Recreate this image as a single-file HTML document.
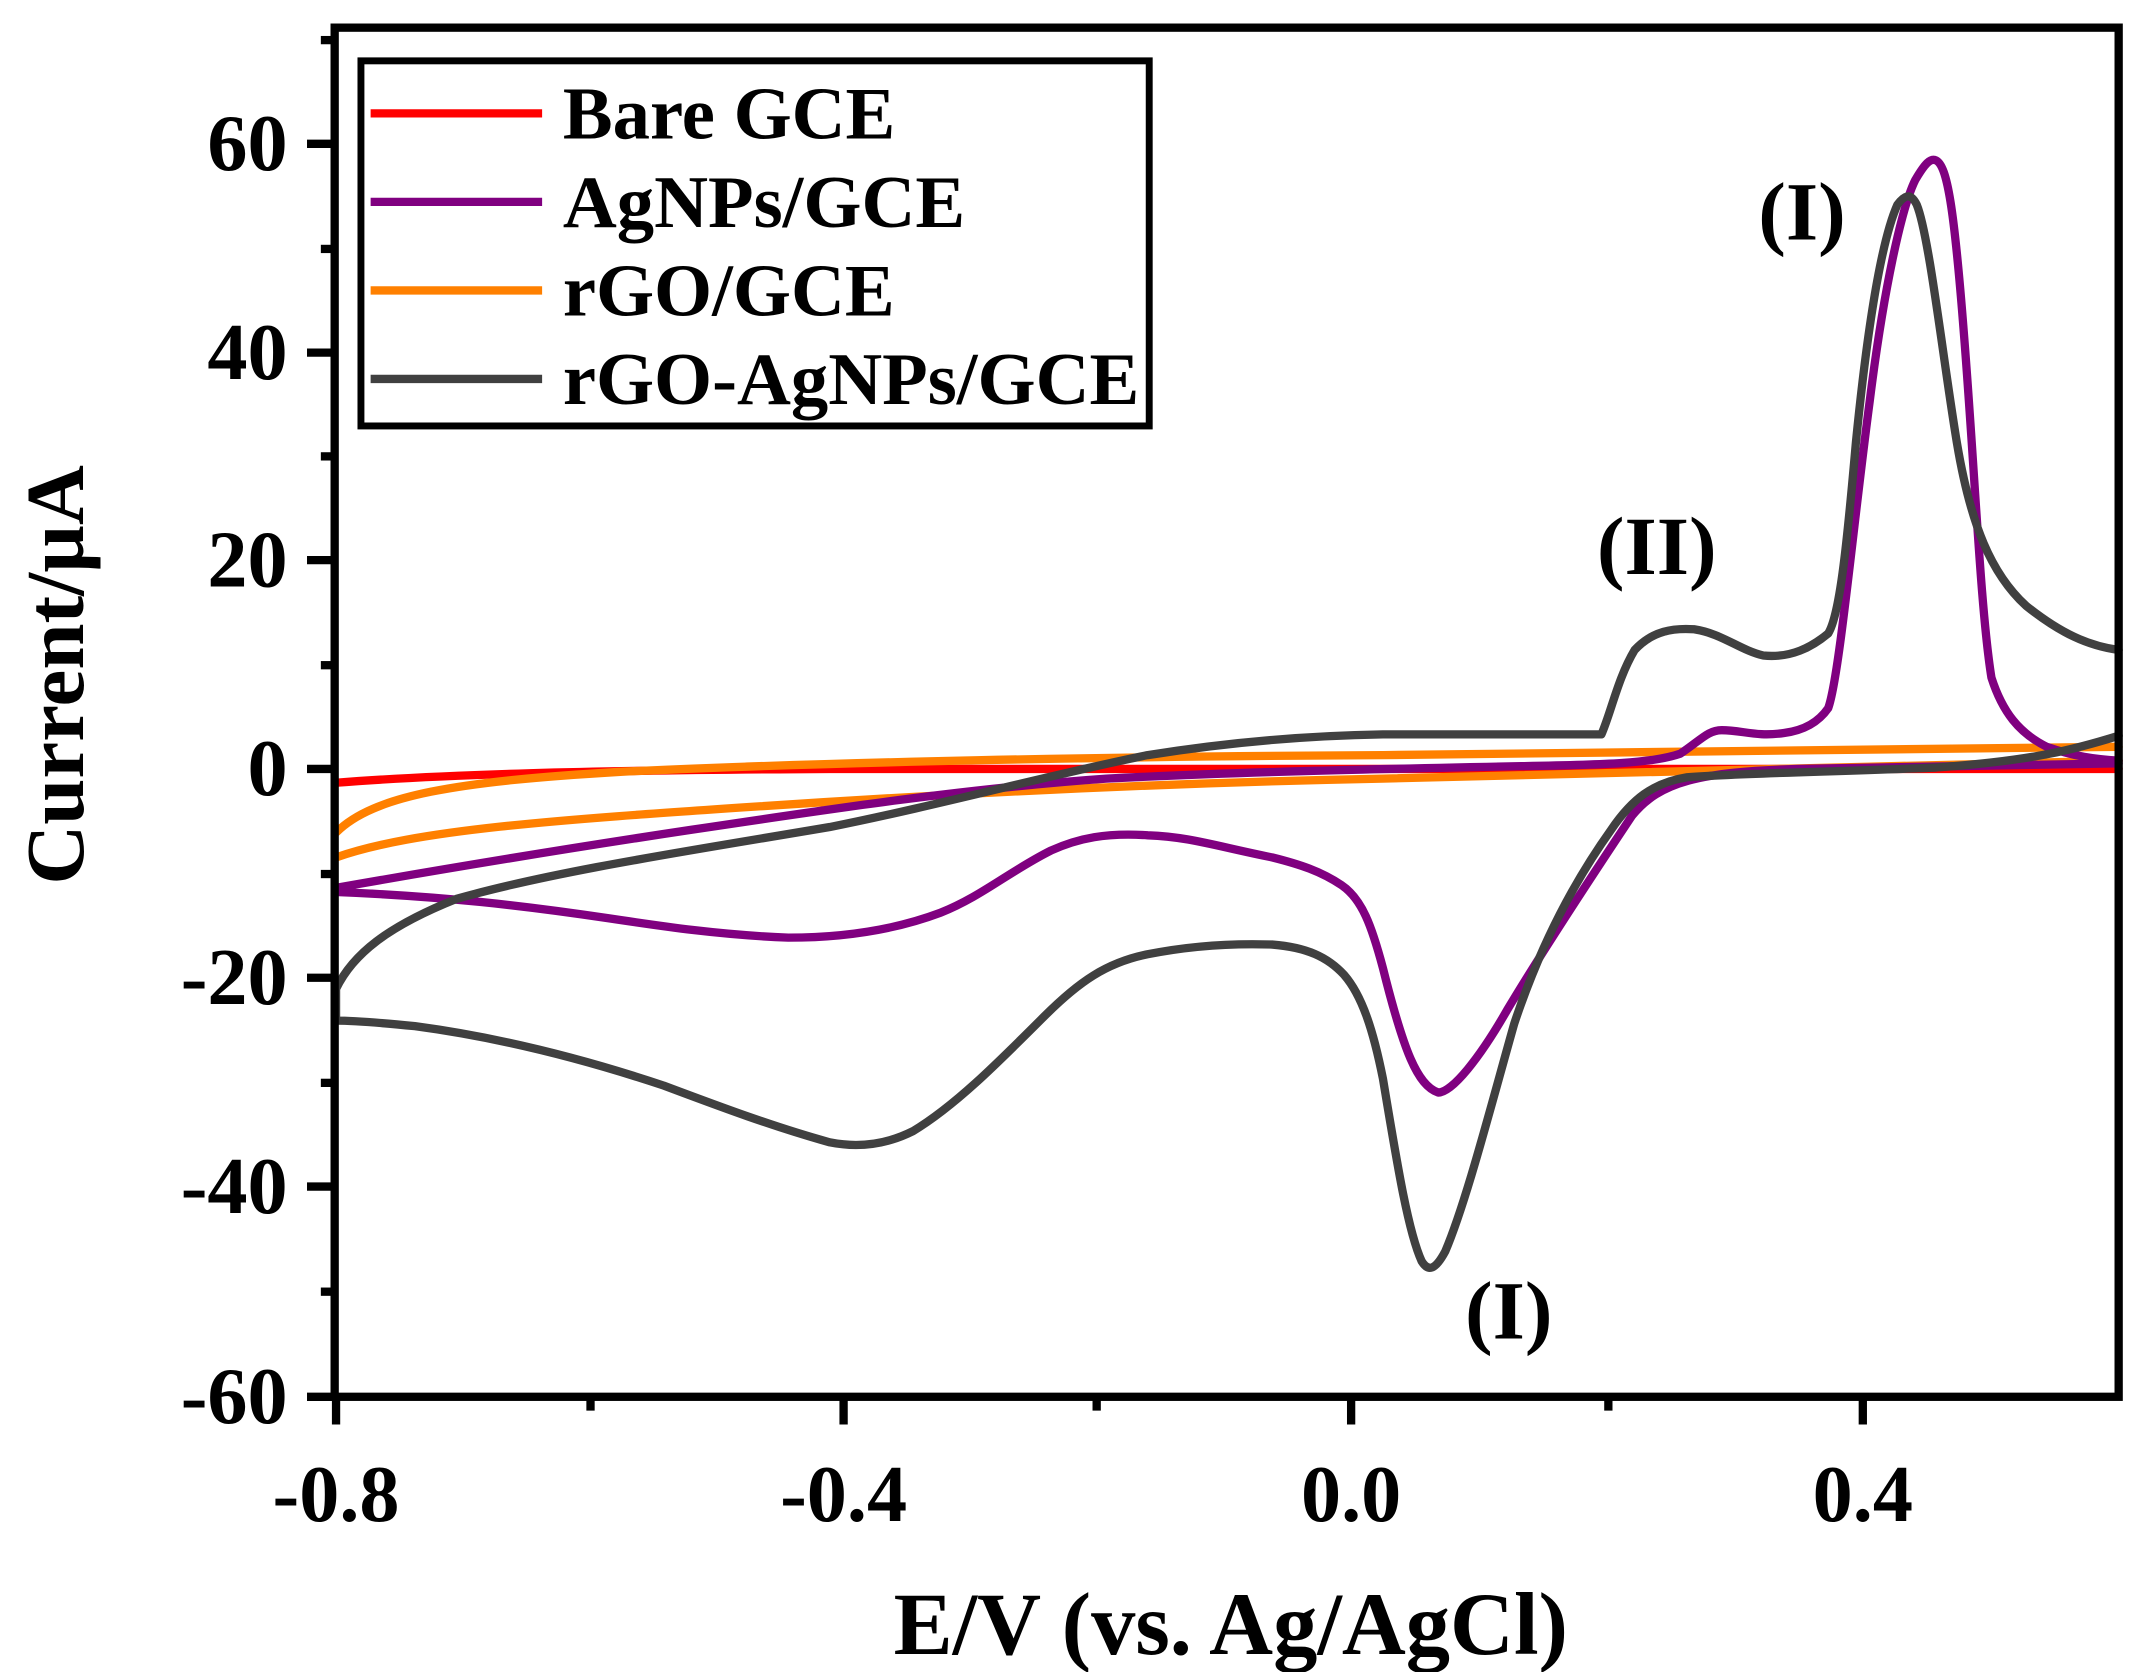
<!DOCTYPE html>
<html><head><meta charset="utf-8"><style>
html,body{margin:0;padding:0;background:#fff;}
svg{display:block;}
text{font-family:"Liberation Serif",serif;font-weight:bold;fill:#000;}
</style></head><body>
<svg width="2156" height="1672" viewBox="0 0 1559 1209" preserveAspectRatio="none" xmlns="http://www.w3.org/2000/svg">
<rect width="1559" height="1209" fill="#fff"/>
<g fill="none" stroke-width="6" stroke-linejoin="round" stroke-linecap="round">
<path stroke="#ff0000" d="M243,566 C320,560 420,557 600,556 L1532,556"/>
<path stroke="#ff8000" d="M243,602 C270,575 330,565 450,558 C600,551 800,547 1000,546 L1532,540 M243,620 C300,600 400,593 550,583 C700,573 850,566 1000,563 L1532,550"/>
<path stroke="#800080" d="M1532,552 L1300,556 C1230,558 1200,565 1180,590 C1160,620 1120,680 1090,730 C1070,765 1050,790 1040,790 C1025,785 1015,760 1000,700 C992,670 985,650 970,640 C955,630 940,625 920,620 C880,612 860,605 830,604 C800,602 780,606 760,615 C730,630 710,648 680,660 C640,675 600,678 570,678 C520,676 480,670 440,664 C380,655 320,648 243,645 M243,642 C300,632 400,615 500,600 C600,585 700,570 800,563 C900,558 1000,556 1100,554 C1160,553 1195,552 1215,545 C1230,535 1235,528 1245,528 C1260,528 1270,533 1290,530 C1305,528 1315,522 1322,512 C1330,490 1340,380 1352,290 C1362,210 1375,150 1385,130 C1392,118 1396,114 1400,116 C1408,120 1413,150 1420,240 C1428,340 1432,440 1440,490 C1448,515 1460,530 1480,540 C1500,547 1515,549 1532,550"/>
<path stroke="#404040" d="M1532,532 C1500,542 1470,550 1400,555 C1330,558 1260,559 1220,562 C1195,566 1180,578 1165,600 C1140,635 1115,680 1095,740 C1078,800 1060,870 1045,905 C1038,918 1033,920 1028,912 C1018,890 1010,840 1000,780 C993,745 985,720 972,705 C960,692 945,685 920,683 C890,682 860,684 830,690 C800,696 780,710 755,735 C720,770 690,800 660,818 C640,828 620,830 600,826 C560,815 520,800 480,785 C420,765 360,750 300,742 C270,739 255,738 243,738 L243,715 C255,690 280,670 330,650 C400,630 500,615 600,598 C680,582 760,560 830,546 C880,538 940,532 1000,531 L1158,531 C1165,515 1170,490 1182,470 C1195,456 1210,454 1225,455 C1245,458 1258,470 1275,474 C1295,476 1310,468 1322,458 C1330,445 1335,400 1342,320 C1350,240 1360,175 1372,148 C1378,140 1382,140 1386,148 C1395,170 1405,260 1415,320 C1425,380 1440,415 1465,438 C1490,458 1510,467 1532,470"/>
</g>
<rect x="242" y="20" width="1290" height="990" fill="none" stroke="#000" stroke-width="6"/>
<g stroke="#000" stroke-width="6">
<line x1="243" y1="1010" x2="243" y2="1030"/><line x1="610" y1="1010" x2="610" y2="1030"/><line x1="977" y1="1010" x2="977" y2="1030"/><line x1="1347" y1="1010" x2="1347" y2="1030"/>
<line x1="427" y1="1010" x2="427" y2="1020"/><line x1="793" y1="1010" x2="793" y2="1020"/><line x1="1163" y1="1010" x2="1163" y2="1020"/>
<line x1="222" y1="104" x2="242" y2="104"/><line x1="222" y1="255" x2="242" y2="255"/><line x1="222" y1="405" x2="242" y2="405"/><line x1="222" y1="556" x2="242" y2="556"/><line x1="222" y1="707" x2="242" y2="707"/><line x1="222" y1="858" x2="242" y2="858"/><line x1="222" y1="1010" x2="242" y2="1010"/>
<line x1="232" y1="29" x2="242" y2="29"/><line x1="232" y1="180" x2="242" y2="180"/><line x1="232" y1="330" x2="242" y2="330"/><line x1="232" y1="481" x2="242" y2="481"/><line x1="232" y1="632" x2="242" y2="632"/><line x1="232" y1="783" x2="242" y2="783"/><line x1="232" y1="934" x2="242" y2="934"/>
</g>
<g font-size="58" text-anchor="end">
<text x="208" y="123">60</text><text x="208" y="274">40</text><text x="208" y="424">20</text><text x="208" y="575">0</text><text x="208" y="726">-20</text><text x="208" y="877">-40</text><text x="208" y="1029">-60</text>
</g>
<g font-size="58" text-anchor="middle">
<text x="243" y="1100">-0.8</text><text x="610" y="1100">-0.4</text><text x="977" y="1100">0.0</text><text x="1347" y="1100">0.4</text>
<text x="890" y="1196" font-size="64">E/V (vs. Ag/AgCl)</text>
<text transform="translate(60,488) rotate(-90)" font-size="60">Current/µA</text>
<text x="1198" y="415" font-size="60">(II)</text><text x="1303" y="173" font-size="60">(I)</text><text x="1091" y="968" font-size="60">(I)</text>
</g>
<rect x="261" y="44" width="570" height="264" fill="#fff" stroke="#000" stroke-width="5"/>
<g stroke-width="6">
<line x1="268" y1="82" x2="392" y2="82" stroke="#ff0000"/>
<line x1="268" y1="146" x2="392" y2="146" stroke="#800080"/>
<line x1="268" y1="210" x2="392" y2="210" stroke="#ff8000"/>
<line x1="268" y1="274" x2="392" y2="274" stroke="#404040"/>
</g>
<g font-size="54">
<text x="407" y="100">Bare GCE</text><text x="407" y="164">AgNPs/GCE</text><text x="407" y="228">rGO/GCE</text><text x="407" y="292">rGO-AgNPs/GCE</text>
</g>
</svg>
</body></html>
